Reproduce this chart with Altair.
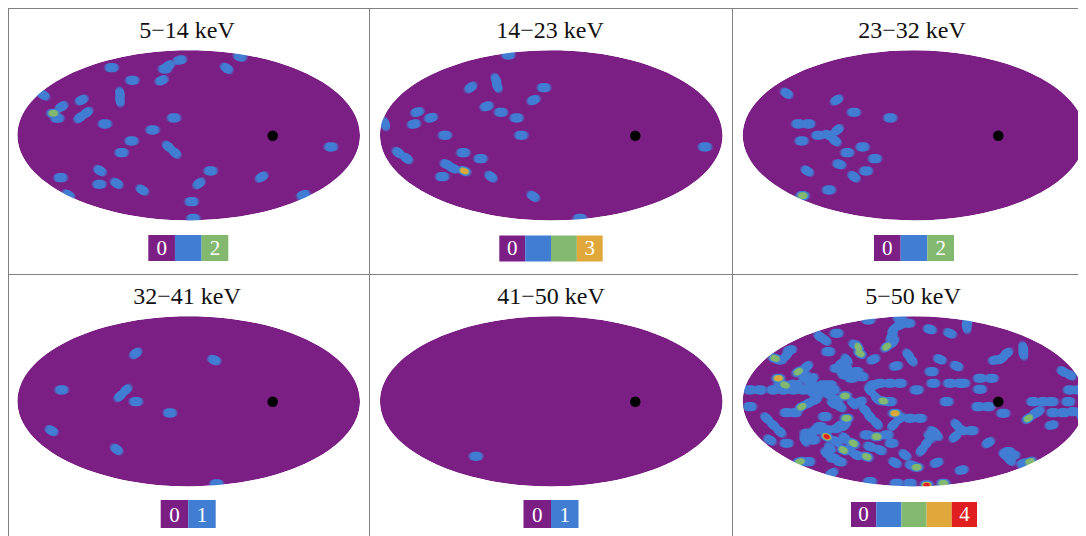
import altair as alt
import pandas as pd

PURPLE, BLUE, GREEN, ORANGE, RED = "#7B1F85", "#417DD3", "#83B96E", "#E0A83A", "#E02020"
LEVEL_COLORS = [PURPLE, BLUE, GREEN, ORANGE, RED]

titles = ["5\u221214 keV", "14\u221223 keV", "23\u221232 keV", "32\u221241 keV", "41\u221250 keV", "5\u221250 keV"]
title_x = [187, 550, 912, 187, 551, 913]
title_y = [38, 38, 38, 304, 304, 304]
center_x = [188.7, 551.3, 914, 188.7, 551.3, 914]
center_y = [135.3, 135.3, 135.3, 401.3, 401.3, 401.3]
dot_x = [272.7, 635.3, 998.3, 272.7, 635.3, 998.3]
dot_y = [135.7, 135.7, 135.7, 401.7, 401.7, 401.7]

legend_left = [148.3, 499.3, 874, 160.7, 523.5, 851]
legend_right = [228.3, 602.7, 954, 215.7, 578.5, 977]
legend_top = [235, 235.5, 235, 500, 500, 502]
legend_bottom = [261, 261.5, 261, 528, 528, 527]
legend_labels = [["0", "", "2"], ["0", "", "", "3"], ["0", "", "2"], ["0", "1"], ["0", "1"], ["0", "", "", "", "4"]]

# Blob readings: (x, y, tilt in degrees, level) in a 3x grid local to each panel's origin
panel_origin = [(0, 0), (365, 0), (730, 0), (0, 270), (370, 380), (730, 270)]
p1 = [(335,203,0,1),(505,197,-25,1),(495,207,0,1),(540,180,-10,1),(680,205,30,1),(720,170,15,1),(397,241,0,1),(485,241,-20,1),
      (130,285,30,1),(245,300,-25,1),(360,282,80,1),(360,300,80,1),(185,320,-30,1),(160,340,0,2),(172,355,0,1),(240,352,-35,1),
      (260,338,-35,1),(315,372,0,1),(522,354,0,1),(458,390,0,1),(395,423,0,1),(365,458,0,1),(505,440,40,1),(525,458,40,1),
      (300,512,30,1),(182,533,0,1),(298,553,0,1),(350,550,30,1),(427,570,30,1),(205,585,30,1),(632,513,0,1),(597,550,-35,1),
      (575,605,0,1),(785,531,-30,1),(993,441,0,1),(910,585,-20,1),(580,655,0,1)]
p2 = [(430,165,0,1),(317,262,-35,1),(393,240,65,1),(397,258,65,1),(537,263,0,1),(506,300,-20,1),(365,319,-15,1),(408,337,0,1),
      (455,354,0,1),(157,336,-15,1),(198,353,-15,1),(147,372,-10,1),(60,372,70,1),(240,406,0,1),(469,406,0,1),(100,458,35,1),
      (125,475,35,1),(295,458,0,1),(347,476,0,1),(245,493,20,1),(265,505,20,1),(298,513,20,3),(232,530,0,1),(378,530,35,1),
      (505,589,30,1),(645,655,0,1),(1020,441,0,1)]
p3 = [(170,280,30,1),(320,300,-30,1),(372,337,0,1),(481,354,0,1),(205,372,0,1),(235,372,0,1),(265,406,0,1),(295,405,20,1),
      (322,390,-35,1),(315,422,35,1),(215,423,0,1),(398,441,0,1),(352,458,0,1),(435,476,0,1),(328,493,15,1),(408,513,0,1),
      (372,530,35,1),(232,513,30,1),(297,570,0,1),(218,587,0,2)]
p4 = [(407,250,-35,1),(643,270,20,1),(185,360,0,1),(360,378,-40,1),(378,360,-40,1),(408,395,0,1),(510,429,0,1),(155,482,25,1),
      (350,538,35,1),(650,642,0,1)]
p5 = [(318,229,0,1)]
p6 = [(490,180,-50,1),(510,165,-20,1),(535,160,0,1),(485,200,-50,1),(600,178,15,1),(660,190,20,1),(710,170,80,1),(712,155,80,1),
      (510,145,0,1),(415,150,0,1),(270,200,35,1),(285,210,35,1),(320,190,0,1),(295,245,0,1),(375,225,30,1),(385,232,60,2),
      (390,250,30,2),(430,268,-20,1),(470,230,-35,2),(490,215,-50,1),(535,255,50,1),(545,270,50,1),(630,268,20,1),(680,288,20,1),
      (498,288,-10,1),(605,305,0,1),(135,265,15,2),(150,270,0,1),(170,255,-50,1),(180,240,-10,1),(335,280,-30,1),(350,270,50,1),
      (320,295,0,1),(350,300,40,1),(370,315,30,1),(395,320,0,1),(350,290,60,1),(145,325,0,3),(165,345,20,2),(205,305,-30,2),
      (230,290,-35,1),(225,320,-30,1),(245,325,-20,1),(130,360,0,1),(160,360,0,1),(190,360,0,1),(220,360,0,1),(250,350,-10,1),
      (280,345,0,1),(300,345,0,1),(240,335,-30,1),(300,375,40,1),(320,390,30,1),(345,378,0,2),(330,410,30,1),(310,400,30,1),
      (290,370,30,1),(60,360,0,1),(90,360,0,1),(60,410,0,1),(215,410,-25,2),(235,400,-25,1),(255,390,-25,1),(195,428,0,1),
      (170,428,0,1),(390,395,-20,1),(370,400,40,1),(405,420,45,1),(420,440,45,1),(440,460,45,1),(350,445,0,2),(325,470,-45,1),
      (345,465,-45,1),(285,440,0,1),(430,345,0,1),(450,340,0,1),(480,340,0,1),(510,340,0,1),(420,360,50,1),(440,385,50,1),
      (460,393,10,2),(480,395,0,1),(495,430,0,3),(490,465,-45,1),(510,445,-30,1),(540,445,0,1),(570,445,0,1),(560,360,0,1),
      (610,340,0,1),(660,340,0,1),(690,340,0,1),(700,340,0,1),(650,395,0,1),(750,325,0,1),(785,325,0,1),(750,358,0,1),
      (745,410,0,1),(775,410,0,1),(820,430,0,1),(110,445,40,1),(130,465,40,1),(150,485,40,1),(170,520,0,1),(120,510,30,1),
      (230,490,0,1),(260,480,0,1),(290,480,0,1),(320,475,-10,1),(225,510,60,1),(290,500,25,4),(320,515,30,1),(370,520,25,2),
      (340,540,25,2),(345,505,40,1),(300,535,50,1),(290,550,40,1),(310,565,0,1),(330,575,10,1),(360,540,40,1),(380,555,20,1),
      (410,560,20,2),(440,500,0,2),(410,495,0,1),(470,495,0,1),(485,520,0,1),(450,540,20,1),(420,530,20,1),(525,555,35,1),
      (495,578,25,1),(545,585,10,1),(560,592,0,2),(620,578,-20,1),(695,600,-10,1),(600,500,40,1),(610,485,30,1),(590,520,-50,1),
      (575,540,-50,1),(620,495,40,1),(680,465,45,1),(695,480,20,1),(725,482,0,1),(675,500,-40,1),(775,518,-30,1),(825,555,40,1),
      (840,570,40,1),(850,555,0,1),(900,575,-20,2),(880,580,-20,1),(210,575,-10,2),(235,575,0,1),(305,610,-30,1),(420,635,0,1),
      (500,640,0,1),(540,640,0,1),(590,645,0,4),(640,640,0,2),(880,235,75,1),(880,250,75,1),(815,265,-35,1),(830,250,-35,1),
      (795,270,-10,1),(1000,305,25,1),(1020,315,25,1),(1020,360,0,1),(1045,360,0,1),(910,395,0,1),(940,395,0,1),(965,395,0,1),
      (1015,395,0,1),(895,445,-30,2),(915,430,-35,1),(925,425,-35,1),(970,428,0,1),(1000,428,0,1),(1030,425,0,1),(965,465,-10,1),
      (1055,440,60,1),(250,365,0,1),(280,360,0,1),(200,345,-20,1),(310,360,0,1),(240,500,0,1),(235,490,0,1),(250,510,0,1),
      (270,470,0,1),(840,555,0,1),(835,545,0,1),(345,315,0,1),(340,305,0,1),(365,325,0,1),(380,305,0,1),(150,345,0,1),
      (180,345,-30,1),(260,375,0,1)]
panels = [p1, p2, p3, p4, p5, p6]

rows = []
for (ox, oy), pts in zip(panel_origin, panels):
    for x, y, tilt, level in pts:
        rows.append({"x": ox + x / 3, "y": oy + y / 3, "a": tilt % 360, "level": level})
blobs = pd.DataFrame(rows)

cells = []
for i, labs in enumerate(legend_labels):
    w = (legend_right[i] - legend_left[i]) / len(labs)
    for j, lab in enumerate(labs):
        cells.append({"x": legend_left[i] + j * w, "x2": legend_left[i] + (j + 1) * w,
                      "y": legend_top[i], "y2": legend_bottom[i], "c": LEVEL_COLORS[j],
                      "xc": legend_left[i] + (j + 0.5) * w, "yb": legend_bottom[i] - 6.5, "t": lab})
cells = pd.DataFrame(cells)

XS = alt.Scale(domain=[8, 1078], nice=False, zero=False)
YS = alt.Scale(domain=[536, 8], nice=False, zero=False)
X = alt.X("x:Q", axis=None, scale=XS)
Y = alt.Y("y:Q", axis=None, scale=YS)

ELLIPSE = "M-1,0 A1,0.497 0 1,1 1,0 A1,0.497 0 1,1 -1,0 Z"
MASK = "M-1.04,-0.55 L1.04,-0.55 L1.04,0.55 L-1.04,0.55 Z M-1,0 A1,0.497 0 1,0 1,0 A1,0.497 0 1,0 -1,0 Z"
BLOB = "M-1,0 A1,0.55 0 1,1 1,0 A1,0.55 0 1,1 -1,0 Z"
ELLIPSE_SIZE = (2 * 171.3) ** 2

centers = pd.DataFrame({"x": center_x, "y": center_y})
base = alt.Chart(centers).mark_point(shape=ELLIPSE, filled=True, fill=PURPLE, opacity=1, strokeWidth=0,
                                     size=ELLIPSE_SIZE).encode(x=X, y=Y)
mask = alt.Chart(centers).mark_point(shape=MASK, filled=True, fill="white", opacity=1, strokeWidth=0,
                                     size=ELLIPSE_SIZE).encode(x=X, y=Y)


def hex_rgb(h):
    return f"{int(h[1:3], 16)},{int(h[3:5], 16)},{int(h[5:7], 16)}"


def blob_layer(level, width):
    color = LEVEL_COLORS[level]
    grad = {"gradient": "radial", "x1": 0.5, "y1": 0.5, "x2": 0.5, "y2": 0.5, "r1": 0, "r2": 0.5,
            "stops": [{"offset": 0, "color": color}, {"offset": 0.62, "color": color},
                      {"offset": 1, "color": f"rgba({hex_rgb(color)},0)"}]}
    return alt.Chart(blobs[blobs.level >= level]).mark_point(
        shape=BLOB, filled=True, fill=grad, opacity=1, strokeWidth=0, size=width ** 2
    ).encode(x=X, y=Y, angle=alt.Angle("a:Q", scale=None))


blob_layers = [blob_layer(1, 17), blob_layer(2, 12), blob_layer(3, 10), blob_layer(4, 8)]

dots = alt.Chart(pd.DataFrame({"x": dot_x, "y": dot_y})).mark_circle(color="black", opacity=1, size=110).encode(x=X, y=Y)

title_marks = alt.Chart(pd.DataFrame({"x": title_x, "y": title_y, "t": titles})).mark_text(
    font="Liberation Serif", fontSize=24, color="#111111", align="center", baseline="alphabetic"
).encode(x=X, y=Y, text="t:N")

legend_rects = alt.Chart(cells).mark_rect().encode(
    x=X, x2="x2:Q", y=Y, y2="y2:Q", color=alt.Color("c:N", scale=None))
legend_text = alt.Chart(cells[cells.t != ""]).mark_text(
    font="Liberation Serif", fontSize=21, color="white", align="center", baseline="alphabetic"
).encode(x=alt.X("xc:Q", axis=None, scale=XS), y=alt.Y("yb:Q", axis=None, scale=YS), text="t:N")

frame_h = pd.DataFrame({"x": [8, 8], "x2": [1078, 1078], "y": [8.5, 274.5]})
frame_v = pd.DataFrame({"x": [8.5, 369.5, 732.5], "y": [8.5, 8.5, 8.5], "y2": [536, 536, 536]})
rule_h = alt.Chart(frame_h).mark_rule(color="#808080", strokeWidth=1).encode(x=X, x2="x2:Q", y=Y)
rule_v = alt.Chart(frame_v).mark_rule(color="#808080", strokeWidth=1).encode(x=X, y=Y, y2="y2:Q")

chart = alt.layer(base, *blob_layers, mask, dots, title_marks, legend_rects, legend_text, rule_h, rule_v).properties(
    width=1070, height=528, padding=0, autosize=alt.AutoSizeParams(type="none"), background="white"
).configure_view(stroke=None)

chart.save("out.html", embed_options={"renderer": "svg", "actions": False})
